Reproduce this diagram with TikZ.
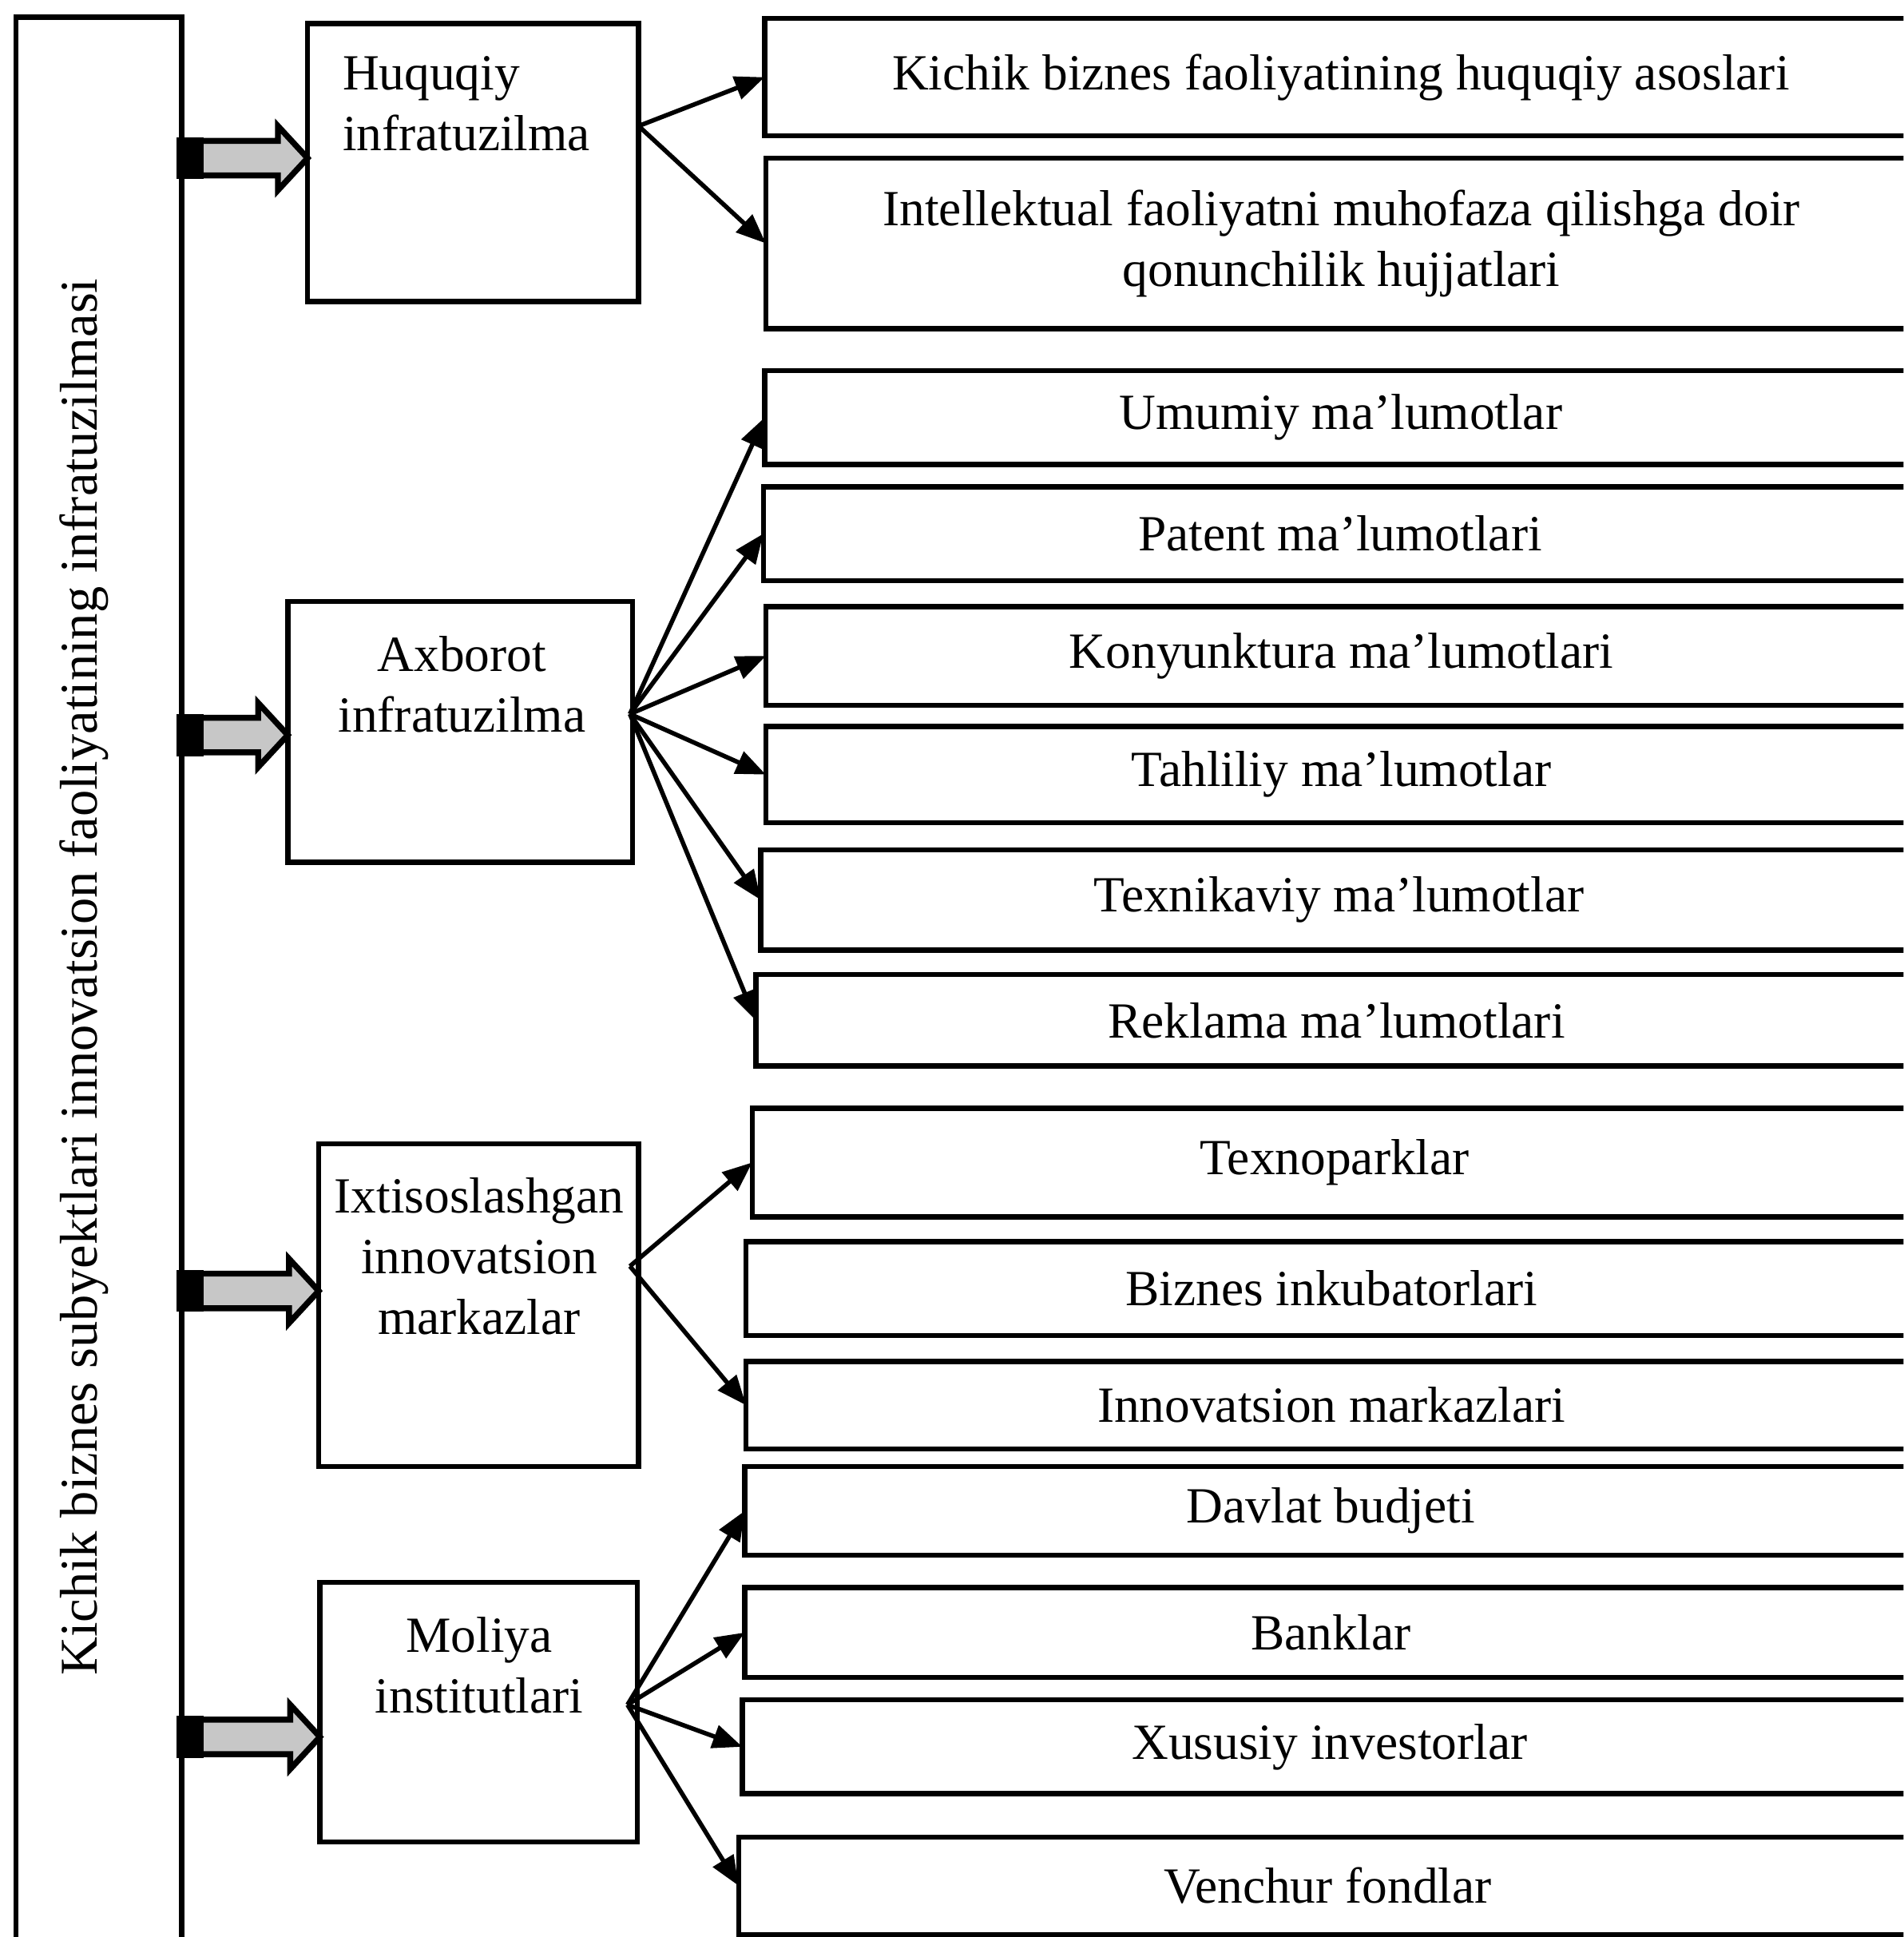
\documentclass[tikz,border=0pt]{standalone}
\usepackage{fontspec}
\setmainfont{Liberation Serif}
\usetikzlibrary{arrows.meta,calc}
\tikzset{
  box/.style={draw, line width=2.1pt, inner sep=0pt, outer sep=0pt},
  txt/.style={font=\fontsize{20.5}{24.5}\selectfont, align=center, inner sep=0pt},
  conn/.style={line width=1.8pt, -{Triangle[length=12pt,width=9.5pt]}},
  barrow/.style={draw, line width=2.4pt, fill=black!22, line join=miter},
}
\newcommand{\blockarr}[2]{%
  \draw[barrow] ($(#1)+(0,-14)$) -- ($(#2)+(-24,-14)$) -- ($(#2)+(-24,-26)$) -- (#2)
     -- ($(#2)+(-24,26)$) -- ($(#2)+(-24,14)$) -- ($(#1)+(0,14)$) -- cycle;
  \fill[black] ($(#1)+(-4,-17)$) rectangle ($(#1)+(18,17)$);
}
\begin{document}
\begin{tikzpicture}[x=0.5pt,y=-0.5pt]
\useasboundingbox (0,0) rectangle (1541,1568);
\fill[white] (0,0) rectangle (1541,1568);
\clip (0,0) rectangle (1541,1568);

% left tall box
\node[box, minimum width=67pt, minimum height=783pt] (lb) at (80,797) {};
\node[txt, rotate=90, font=\fontsize{21.5}{25}\selectfont] (lbt) at (68,791) {Kichik biznes subyektlari innovatsion faoliyatining infratuzilmasi};

% middle boxes
\node[box, minimum width=134pt, minimum height=112.5pt] (hq) at (383,131.5) {};
\node[box, minimum width=139.5pt, minimum height=105.5pt] (ax) at (372.5,592.5) {};
\node[box, minimum width=129.5pt, minimum height=130.5pt] (ix) at (387.5,1056.5) {};
\node[box, minimum width=128.5pt, minimum height=105pt] (mo) at (387.5,1386) {};

\node[txt, align=left, anchor=west] (hqt) at (277,84) {Huquqiy\\infratuzilma};
\node[txt] (axt) at (374,554) {Axborot\\infratuzilma};
\node[txt] (ixt) at (388,1017) {Ixtisoslashgan\\innovatsion\\markazlar};
\node[txt] (mot) at (388,1348) {Moliya\\institutlari};

% right boxes
\node[box, txt, anchor=north west, minimum width=466.5pt, minimum height=47.5pt] (r1) at (619,15) {Kichik biznes faoliyatining huquqiy asoslari};
\node[box, txt, anchor=north west, minimum width=466pt, minimum height=69pt] (r2) at (620,128) {Intellektual faoliyatni muhofaza qilishga doir\\qonunchilik hujjatlari};
\node[box, txt, anchor=north west, minimum width=466.5pt, minimum height=38pt] (r3) at (619,300) {Umumiy ma'lumotlar};
\node[box, txt, anchor=north west, minimum width=467pt, minimum height=38pt] (r4) at (618,394) {Patent ma'lumotlari};
\node[box, txt, anchor=north west, minimum width=466pt, minimum height=40pt] (r5) at (620,491) {Konyunktura ma'lumotlari};
\node[box, txt, anchor=north west, minimum width=466pt, minimum height=39pt] (r6) at (620,588) {Tahliliy ma'lumotlar};
\node[box, txt, anchor=north west, minimum width=468pt, minimum height=40.5pt] (r7) at (616,688) {Texnikaviy ma'lumotlar};
\node[box, txt, anchor=north west, minimum width=470pt, minimum height=37pt] (r8) at (612,789) {Reklama ma'lumotlari};
\node[box, txt, anchor=north west, minimum width=471.5pt, minimum height=44pt] (r9) at (609,897) {Texnoparklar};
\node[box, txt, anchor=north west, minimum width=474pt, minimum height=38pt] (r10) at (604,1005) {Biznes inkubatorlari};
\node[box, txt, anchor=north west, minimum width=474pt, minimum height=35.5pt] (r11) at (604,1102) {Innovatsion markazlari};
\node[box, txt, anchor=north west, minimum width=474.5pt, minimum height=36pt] (r12) at (603,1187) {Davlat budjeti};
\node[box, txt, anchor=north west, minimum width=474.5pt, minimum height=36.5pt] (r13) at (603,1285) {Banklar};
\node[box, txt, anchor=north west, minimum width=475.5pt, minimum height=38pt] (r14) at (601,1376) {Xususiy investorlar};
\node[box, txt, anchor=north west, minimum width=477pt, minimum height=39.5pt] (r15) at (598,1487) {Venchur fondlar};

% hubs
\coordinate (hqo) at (hq.east |- 0,102);
\coordinate (axo) at (510,578);
\coordinate (ixo) at (510,1025);
\coordinate (moo) at (508,1380);

\draw[conn] (hqo) -- (r1.west);
\draw[conn] (hqo) -- (r2.west);
\foreach \r in {r3,r4,r5,r6,r7,r8} \draw[conn] (axo) -- (\r.west);
\foreach \r in {r9,r11} \draw[conn] (ixo) -- (\r.west);
\foreach \r in {r12,r13,r14,r15} \draw[conn] (moo) -- (\r.west);

% block arrows
\coordinate (a1s) at (lb.east |- 0,128);  \coordinate (a1e) at (hq.west |- 0,128);
\coordinate (a2s) at (lb.east |- 0,595);  \coordinate (a2e) at (ax.west |- 0,595);
\coordinate (a3s) at (lb.east |- 0,1045); \coordinate (a3e) at (ix.west |- 0,1045);
\coordinate (a4s) at (lb.east |- 0,1406); \coordinate (a4e) at (mo.west |- 0,1406);
\blockarr{a1s}{a1e}
\blockarr{a2s}{a2e}
\blockarr{a3s}{a3e}
\blockarr{a4s}{a4e}
\end{tikzpicture}
\end{document}
